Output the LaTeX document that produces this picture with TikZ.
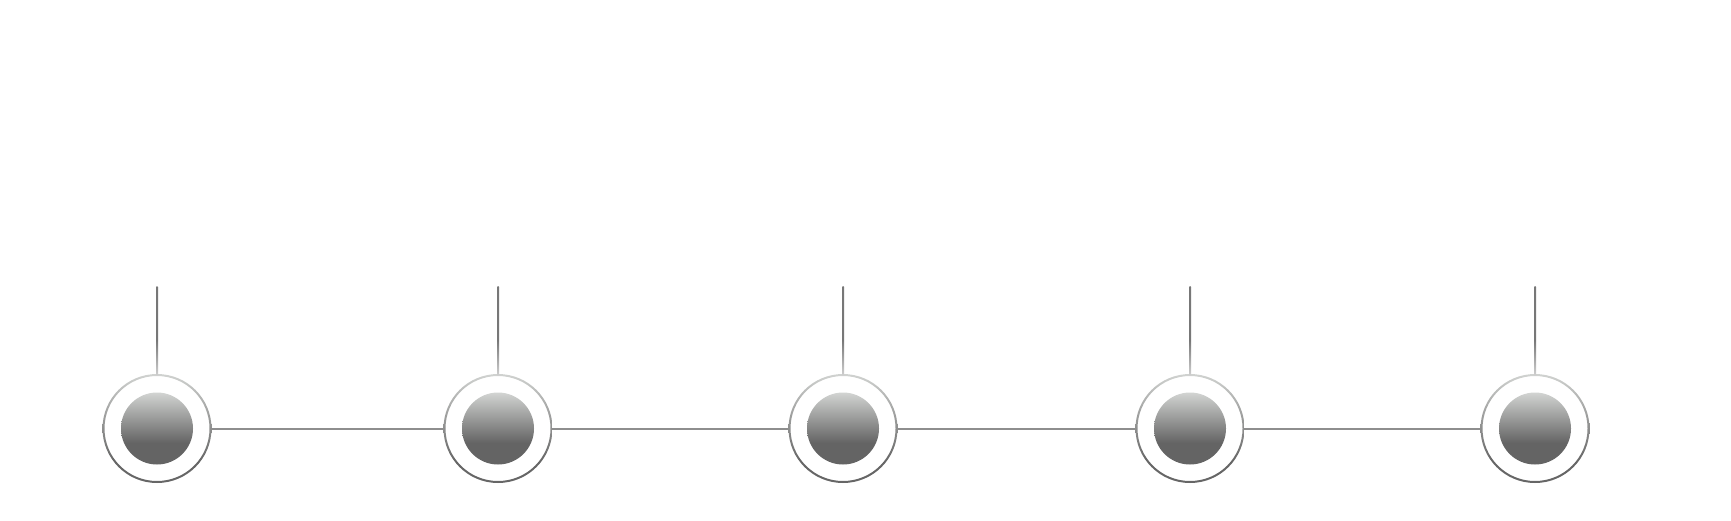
\documentclass[tikz,border=0pt]{standalone}
\usetikzlibrary{calc}
\definecolor{lt}{HTML}{D2D4D2}
\definecolor{dk}{HTML}{646464}
\definecolor{ringlt}{HTML}{D0D2D0}
\definecolor{ringdk}{HTML}{666666}
\definecolor{vtop}{HTML}{777777}
\definecolor{vbot}{HTML}{D0D0D0}
\definecolor{hline}{HTML}{8E8E8E}
\pgfdeclareverticalshading{ballshade}{100bp}{color(0bp)=(dk); color(25bp)=(dk); color(40bp)=(dk); color(75bp)=(lt); color(100bp)=(lt)}
\pgfdeclareverticalshading{ringshade}{100bp}{color(0bp)=(ringdk); color(25bp)=(ringdk); color(35bp)=(ringdk); color(75bp)=(ringlt); color(100bp)=(ringlt)}
\pgfdeclareverticalshading{stemshade}{100bp}{color(0bp)=(vbot); color(25bp)=(vbot); color(45bp)=(vtop); color(75bp)=(vtop); color(100bp)=(vtop)}
\tikzset{
  stepnode/.style={circle, minimum size=108pt, inner sep=0pt, outer sep=0pt},
  ring/.style={shading=ringshade},
  ball/.style={shading=ballshade},
  stem/.style={shading=stemshade},
  link/.style={draw=hline, line width=2pt}
}
\begin{document}
\begin{tikzpicture}[x=1pt,y=1pt]
\useasboundingbox (0,0) rectangle (1731,-520);
\foreach \a/\b in {1/157,2/498,3/843,4/1190,5/1535}{
  \node[stepnode] (n\a) at (\b,-428.5) {};
}
\foreach \a/\b in {1/2,2/3,3/4,4/5}{
  \draw[link] (n\a.east) -- (n\b.west);
}
\foreach \i/\x in {1/157,2/498,3/843,4/1190,5/1535}{
  \coordinate (t\i) at (\x,-287);
  \begin{scope}[even odd rule]
    \clip (n\i.center) circle[radius=54.5] circle[radius=52.5];
    \shade[ring] ($(n\i.center)+(-54.5,-54.5)$) rectangle ($(n\i.center)+(54.5,54.5)$);
  \end{scope}
  \shade[ball] (n\i.center) circle[radius=36];
  \shade[stem] ($(t\i)+(-1,0)$) rectangle ($(n\i.north)+(1,-1)$);
  \fill[vtop] (t\i) circle[radius=1];
}
\end{tikzpicture}
\end{document}
